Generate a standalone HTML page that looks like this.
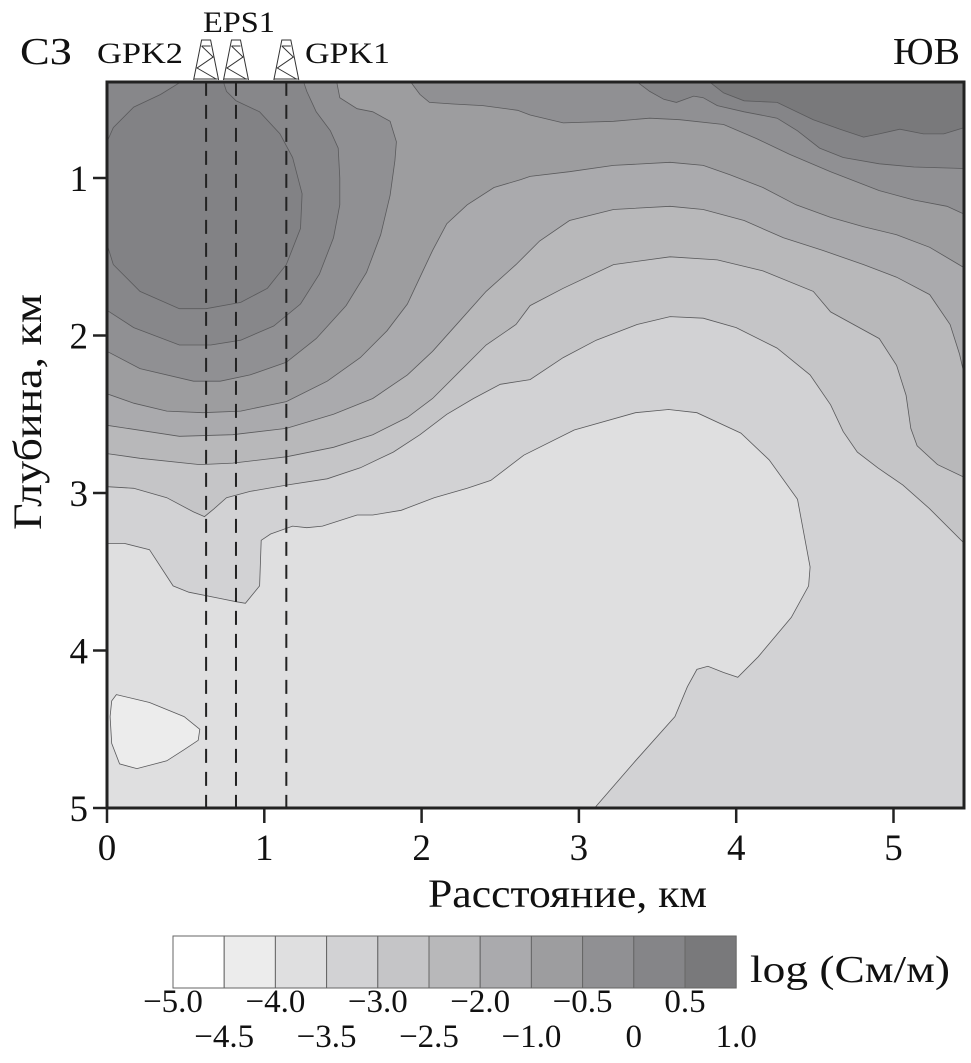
<!DOCTYPE html>
<html><head><meta charset="utf-8"><style>
html,body{margin:0;padding:0;background:#fff;}
svg{display:block;font-family:"Liberation Serif",serif;}
</style></head><body>
<svg id="chart" width="971" height="1063" viewBox="0 0 971 1063" xmlns="http://www.w3.org/2000/svg">
<defs><clipPath id="plotClip"><rect x="107" y="82" width="857" height="726"/></clipPath></defs>
<g id="fills" clip-path="url(#plotClip)"></g>
<g id="wells"></g>
<rect x="107" y="82" width="857" height="726" fill="none" stroke="#222" stroke-width="3"/>
<g id="axes"></g>
<text x="20" y="64" font-size="38" fill="#111" textLength="52" lengthAdjust="spacingAndGlyphs">СЗ</text>
<text x="893" y="64" font-size="38" fill="#111" textLength="67" lengthAdjust="spacingAndGlyphs">ЮВ</text>
<text x="32" y="412" font-size="40" fill="#111" text-anchor="middle" transform="rotate(-90 32 412)" dominant-baseline="middle" textLength="236" lengthAdjust="spacingAndGlyphs">Глубина, км</text>
<text x="428" y="907" font-size="40" fill="#111" textLength="279" lengthAdjust="spacingAndGlyphs">Расстояние, км</text>
<g id="legend"></g>
<text x="750" y="982" font-size="38" fill="#111" textLength="200" lengthAdjust="spacingAndGlyphs">log (См/м)</text>
</svg>
<script>
// ---- data ----
const xTicks = [0,1,2,3,4,5];
const yTicks = [1,2,3,4,5];
const levelLabels = ["−5.0","−4.5","−4.0","−3.5","−3.0","−2.5","−2.0","−1.0","−0.5","0","0.5","1.0"];
const levelColors = ["#ffffff","#ececec","#dfdfe0","#d2d2d4","#c5c5c7","#b8b8ba","#aaaaad","#9d9d9f","#909093","#858588","#79797b"];
const wellNames = ["GPK2","EPS1","GPK1"];
const wellKm = [0.63,0.82,1.14];
// contours: [km, depth] pairs
const lightZone = [[0,5],[0,3.32],[0.11,3.32],[0.27,3.36],[0.42,3.59],[0.52,3.63],[0.72,3.67],[0.82,3.69],[0.88,3.70],[0.97,3.59],[0.98,3.30],[1.04,3.26],[1.18,3.21],[1.27,3.22],[1.37,3.21],[1.59,3.14],[1.69,3.14],[1.87,3.11],[2.08,3.03],[2.29,2.97],[2.44,2.92],[2.65,2.76],[2.97,2.60],[3.36,2.49],[3.57,2.47],[3.75,2.49],[4.03,2.62],[4.21,2.79],[4.39,3.04],[4.47,3.47],[4.46,3.59],[4.35,3.79],[4.14,4.04],[4.01,4.17],[3.92,4.14],[3.82,4.10],[3.75,4.12],[3.69,4.23],[3.61,4.42],[3.36,4.70],[3.10,5.0]];
const blobZone = [[0.06,4.28],[0.27,4.33],[0.49,4.42],[0.59,4.50],[0.58,4.57],[0.49,4.63],[0.38,4.70],[0.19,4.75],[0.08,4.72],[0.03,4.59],[0.02,4.42],[0.03,4.32]];
const contourB = [[0,2.96],[0.17,2.97],[0.38,3.03],[0.55,3.12],[0.62,3.15],[0.68,3.10],[0.76,3.03],[0.91,2.99],[1.14,2.95],[1.40,2.91],[1.61,2.84],[1.82,2.74],[1.99,2.63],[2.16,2.50],[2.33,2.40],[2.50,2.31],[2.69,2.28],[2.90,2.14],[3.11,2.03],[3.37,1.93],[3.58,1.88],[3.79,1.89],[4.00,1.95],[4.26,2.08],[4.47,2.25],[4.60,2.44],[4.68,2.61],[4.77,2.74],[4.90,2.84],[5.06,2.95],[5.23,3.10],[5.45,3.32]];
const contour6 = [[0,2.75],[0.21,2.78],[0.59,2.82],[0.80,2.81],[1.14,2.77],[1.44,2.71],[1.69,2.63],[1.91,2.52],[2.07,2.40],[2.24,2.23],[2.41,2.06],[2.60,1.93],[2.69,1.81],[2.90,1.70],[3.22,1.55],[3.58,1.50],[3.88,1.52],[4.17,1.59],[4.49,1.72],[4.60,1.85],[4.91,2.02],[5.02,2.19],[5.08,2.38],[5.11,2.59],[5.15,2.70],[5.28,2.82],[5.45,2.90]];
const contour5 = [[0,2.57],[0.46,2.64],[0.80,2.63],[1.14,2.59],[1.44,2.50],[1.69,2.40],[1.91,2.25],[2.07,2.10],[2.24,1.91],[2.41,1.72],[2.60,1.55],[2.75,1.40],[2.94,1.27],[3.22,1.20],[3.58,1.18],[3.79,1.20],[4.05,1.27],[4.30,1.38],[4.55,1.46],[4.81,1.55],[5.02,1.63],[5.23,1.74],[5.36,1.93],[5.42,2.12],[5.45,2.25]];
const contour4 = [[0,2.37],[0.17,2.43],[0.38,2.48],[0.61,2.49],[0.85,2.48],[1.14,2.42],[1.40,2.29],[1.61,2.14],[1.78,1.97],[1.91,1.80],[1.99,1.63],[2.07,1.46],[2.16,1.29],[2.29,1.17],[2.46,1.06],[2.63,1.01],[2.69,0.99],[2.94,0.96],[3.22,0.92],[3.58,0.90],[3.79,0.92],[3.96,0.98],[4.17,1.06],[4.38,1.17],[4.60,1.25],[4.81,1.31],[5.02,1.36],[5.23,1.44],[5.45,1.57]];
const contourF = [[1.93,0.39],[1.99,0.47],[2.05,0.52],[2.20,0.53],[2.39,0.54],[2.61,0.57],[2.69,0.60],[2.90,0.65],[3.22,0.64],[3.45,0.62],[3.64,0.63],[3.92,0.66],[4.13,0.75],[4.34,0.85],[4.60,0.96],[4.91,1.08],[5.13,1.14],[5.34,1.18],[5.45,1.23]];
const contour3 = [[0,2.10],[0.21,2.21],[0.55,2.29],[0.72,2.29],[0.91,2.25],[1.14,2.17],[1.33,2.02],[1.52,1.81],[1.65,1.60],[1.74,1.36],[1.80,1.11],[1.83,0.89],[1.84,0.77],[1.80,0.64],[1.69,0.58],[1.59,0.56],[1.48,0.49],[1.46,0.39]];
const contourE = [[3.37,0.39],[3.45,0.45],[3.54,0.50],[3.62,0.52],[3.73,0.48],[3.79,0.49],[3.88,0.54],[4.05,0.58],[4.26,0.62],[4.39,0.70],[4.53,0.81],[4.68,0.87],[4.91,0.91],[5.13,0.93],[5.45,0.94]];
const contour2 = [[0,1.84],[0.17,1.95],[0.46,2.06],[0.66,2.06],[0.85,2.03],[1.06,1.94],[1.23,1.80],[1.35,1.61],[1.44,1.38],[1.48,1.17],[1.48,1.00],[1.47,0.81],[1.42,0.70],[1.33,0.58],[1.27,0.45],[1.25,0.39]];
const contourD = [[3.83,0.39],[3.92,0.46],[4.05,0.51],[4.26,0.52],[4.49,0.63],[4.66,0.69],[4.81,0.74],[4.91,0.72],[5.04,0.69],[5.19,0.72],[5.32,0.72],[5.45,0.68]];
const circleZone = [[0.47,0.39],[0.34,0.47],[0.17,0.55],[0.04,0.68],[0,0.77],[0,1.42],[0.04,1.55],[0.21,1.72],[0.46,1.83],[0.63,1.83],[0.85,1.79],[1.02,1.70],[1.14,1.55],[1.23,1.32],[1.24,1.10],[1.18,0.87],[1.10,0.72],[0.97,0.58],[0.82,0.51],[0.76,0.45],[0.74,0.39]];

// ---- axes ----
const X0=107, PXKM=157.3, XMAX=5.45, TOP=0.39, BOT=5, Y1=178, PXD=157.5;
const sx = km => X0 + km*PXKM;
const sy = d => Y1 + (d-1)*PXD;
const NS="http://www.w3.org/2000/svg";
function mk(tag, attrs, parent){const e=document.createElementNS(NS,tag);for(const k in attrs)e.setAttribute(k,attrs[k]);parent.appendChild(e);return e;}
const fills=document.getElementById('fills');
function pts(arr){return arr.map(p=>sx(p[0]).toFixed(1)+','+sy(p[1]).toFixed(1)).join(' ');}
function region(arr, extra, color, name){
  const all = arr.concat(extra);
  const el = mk('polygon',{points:pts(all),fill:color,stroke:'#5a5a5c','stroke-width':'0.8'},fills);
  
  
}
const bg = mk('rect',{x:sx(0),y:sy(TOP),width:sx(XMAX)-sx(0),height:sy(BOT)-sy(TOP),fill:levelColors[3]},fills);


const aboveFull=[[XMAX,TOP],[0,TOP]];
region(contourB, aboveFull, levelColors[4], 'zone-level-4');
region(contour6, aboveFull, levelColors[5], 'zone-level-5');
region(contour5, aboveFull, levelColors[6], 'zone-level-6');
region(contour4, aboveFull, levelColors[7], 'zone-level-7');
region(contourF, [[XMAX,TOP]], levelColors[8], 'zone-level-8-east');
region(contour3, [[0,TOP]], levelColors[8], 'zone-level-8-west');
region(contourE, [[XMAX,TOP]], levelColors[9], 'zone-level-9-east');
region(contourD, [[XMAX,TOP]], levelColors[10], 'zone-level-10-east');
region(contour2, [[0,TOP]], '#87878a', 'zone-level-9-west');
region(circleZone, [], '#828285', 'zone-level-10-west');
region(lightZone, [], levelColors[2], 'zone-level-2');
region(blobZone, [], levelColors[1], 'zone-level-1');

// wells
const wells=document.getElementById('wells');
wellKm.forEach((k,i)=>{
  const x=sx(k);
  const l=mk('line',{x1:x,y1:sy(TOP),x2:x,y2:sy(BOT),stroke:'#222','stroke-width':'2','stroke-dasharray':'14,9'},wells);
  
  
  const g=mk('g',{},wells);
  
  
  const b=80,t=40,hb=12.5,ht=4.5;
  mk('path',{d:`M${x-hb},${b} L${x-ht},${t} L${x+ht},${t} L${x+hb},${b} M${x-ht},${t+6} L${x+ht},${t+6} M${x-ht},${t+6} L${x+7},${t+17} L${x-9},${t+28} L${x+10},${b-1} M${x-12},${b-1} L${x+hb-1},${b-1}`,fill:'none',stroke:'#333','stroke-width':'1'},g);
});
const wl=[["GPK2",97,63,86],["EPS1",203,32,72],["GPK1",305,63,85]];
wl.forEach(w=>{const t=mk('text',{x:w[1],y:w[2],'font-size':'30',fill:'#111',textLength:w[3],lengthAdjust:'spacingAndGlyphs'},wells);t.textContent=w[0];
  
  });

// axes ticks
const axes=document.getElementById('axes');
xTicks.forEach(v=>{
  const x=sx(v);
  const tk=mk('line',{x1:x,y1:808,x2:x,y2:823,stroke:'#222','stroke-width':'2.5'},axes);
  
  
  const t=mk('text',{x:x,y:860,'font-size':'37','text-anchor':'middle',fill:'#111'},axes);
  t.textContent=v;
  
  
});
yTicks.forEach(v=>{
  const y=sy(v);
  const tk=mk('line',{x1:93,y1:y,x2:107,y2:y,stroke:'#222','stroke-width':'2.5'},axes);
  
  
  const t=mk('text',{x:88,y:y+13,'font-size':'37','text-anchor':'end',fill:'#111'},axes);
  t.textContent=v;
  
  
});

// legend
const leg=document.getElementById('legend');
const LX=173, LW=51.2, LY=936, LH=52;
levelColors.forEach((c,i)=>{
  const r=mk('rect',{x:LX+i*LW,y:LY,width:LW,height:LH,fill:c,stroke:'#666','stroke-width':'1'},leg);
  
  
});
levelLabels.forEach((s,i)=>{
  const t=mk('text',{x:LX+i*LW,y:(i%2===0)?1012:1047,'font-size':'33','text-anchor':'middle',fill:'#111'},leg);
  t.textContent=s;
  
  
});
</script>
</body></html>
